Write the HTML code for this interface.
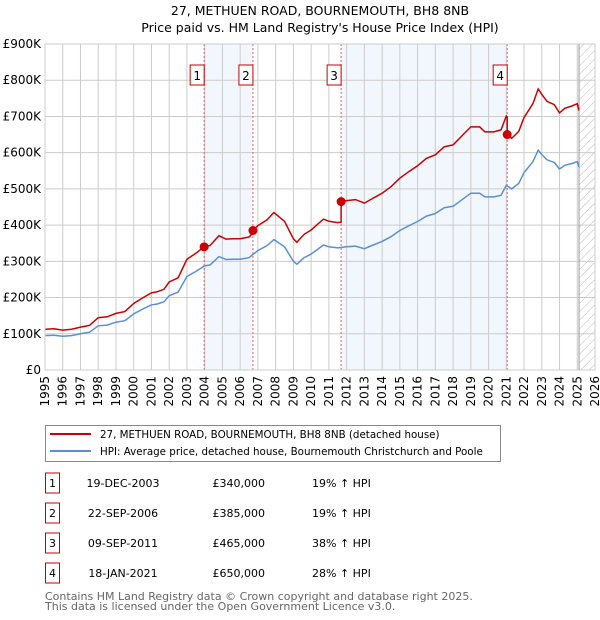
<!DOCTYPE html>
<html><head><meta charset="utf-8"><style>
body{margin:0;background:#fff;font-family:"Liberation Sans","DejaVu Sans",sans-serif;}
#wrap{position:relative;width:600px;height:620px;overflow:hidden;}
</style></head><body>
<div id="wrap">
<svg id="c" width="600" height="620" xmlns="http://www.w3.org/2000/svg" font-family="DejaVu Sans, Liberation Sans, sans-serif">
<text x="320" y="15" text-anchor="middle" font-size="12.5">27, METHUEN ROAD, BOURNEMOUTH, BH8 8NB</text>
<text x="320" y="32" text-anchor="middle" font-size="12.5">Price paid vs. HM Land Registry's House Price Index (HPI)</text>
</svg>
</div>
<script>
const hpiYears=[1995,1995.5,1996,1996.5,1997,1997.5,1998,1998.5,1999,1999.5,2000,2000.5,2001,2001.3,2001.7,2002,2002.5,2003,2003.5,2004,2004.3,2004.8,2005.2,2005.6,2006,2006.5,2007,2007.5,2007.9,2008.5,2009,2009.2,2009.6,2010,2010.7,2011,2011.5,2012,2012.5,2013,2013.5,2014,2014.5,2015,2015.5,2016,2016.5,2017,2017.5,2018,2018.5,2019,2019.5,2019.8,2020.3,2020.7,2021,2021.3,2021.7,2022,2022.5,2022.8,2023,2023.3,2023.7,2024,2024.3,2024.7,2025,2025.1];
const hpiValues=[95,96,93,95,100,104,122,124,132,136,155,168,180,182,188,205,215,258,272,288,290,313,305,306,306,310,330,343,360,340,300,292,310,320,345,340,337,340,342,335,345,355,368,385,398,410,425,432,448,452,470,488,488,478,478,482,510,500,515,545,575,607,595,580,573,555,565,570,575,560];
const saleYears=[2003.97,2006.72,2011.69,2021.05];
const salePrices=[340,385,465,650];
const saleLabels=["1","2","3","4"];
const saleDates=["19-DEC-2003","22-SEP-2006","09-SEP-2011","18-JAN-2021"];
const salePriceText=["£340,000","£385,000","£465,000","£650,000"];
const salePct=["19% ↑ HPI","19% ↑ HPI","38% ↑ HPI","28% ↑ HPI"];
const yTicks=[0,100,200,300,400,500,600,700,800,900];
const yTickLabels=["£0","£100K","£200K","£300K","£400K","£500K","£600K","£700K","£800K","£900K"];
const xTicks=[1995,1996,1997,1998,1999,2000,2001,2002,2003,2004,2005,2006,2007,2008,2009,2010,2011,2012,2013,2014,2015,2016,2017,2018,2019,2020,2021,2022,2023,2024,2025,2026];

const L=45,R=595,T=44,B=370,X0=1995,X1=2026,YMAX=900;
const xs=v=>L+(v-X0)/(X1-X0)*(R-L);
const ys=v=>B-v/YMAX*(B-T);
const svg=document.getElementById('c');
const NS="http://www.w3.org/2000/svg";
function mk(tag,attrs,parent){const e=document.createElementNS(NS,tag);for(const k in attrs)e.setAttribute(k,attrs[k]);(parent||svg).appendChild(e);return e;}
function hpiAt(t){for(let i=0;i<hpiYears.length-1;i++){if(t<=hpiYears[i+1]){const f=(t-hpiYears[i])/(hpiYears[i+1]-hpiYears[i]);return hpiValues[i]+f*(hpiValues[i+1]-hpiValues[i]);}}return hpiValues[hpiValues.length-1];}

const defs=mk('defs',{});
const pat=mk('pattern',{id:'hatch',width:6,height:6,patternUnits:'userSpaceOnUse',patternTransform:'rotate(45)'},defs);
mk('line',{x1:0,y1:0,x2:0,y2:6,stroke:'#bbb','stroke-width':1},pat);
const s1=mk('rect',{x:xs(saleYears[0]),y:T,width:xs(saleYears[1])-xs(saleYears[0]),height:B-T,fill:'#f2f6fd'});

const s2=mk('rect',{x:xs(saleYears[2]),y:T,width:xs(saleYears[3])-xs(saleYears[2]),height:B-T,fill:'#f2f6fd'});

const hx=mk('rect',{x:xs(2025.1),y:T,width:R-xs(2025.1),height:B-T,fill:'url(#hatch)'});


yTicks.forEach((v,i)=>{
 const g=mk('line',{x1:L,x2:R,y1:ys(v),y2:ys(v),stroke:'#ccc','stroke-width':1});
 
 const t=mk('text',{x:L-4,y:ys(v)+4,'text-anchor':'end','font-size':12});
 t.textContent=yTickLabels[i];
 
});
xTicks.forEach(v=>{
 const g=mk('line',{x1:xs(v),x2:xs(v),y1:T,y2:B,stroke:'#ccc','stroke-width':1});
 
 const t=mk('text',{x:0,y:0,'text-anchor':'end','font-size':12,transform:`translate(${xs(v)+4},${B+6}) rotate(-90)`});
 t.textContent=v;
 
});
mk('line',{x1:xs(2025.1),x2:xs(2025.1),y1:T,y2:B,stroke:'#999','stroke-width':1});

saleYears.forEach((v,i)=>{
 const l=mk('line',{x1:xs(v),x2:xs(v),y1:T,y2:B,stroke:'#e06060','stroke-width':1,'stroke-dasharray':'2,2'});
 
 const r=mk('rect',{x:xs(v)-14,y:65,width:14,height:20,fill:'#fff',stroke:'#c00','stroke-width':1});
 
 const t=mk('text',{x:xs(v)-7,y:80,'text-anchor':'middle','font-size':12});
 t.textContent=saleLabels[i];
 
});

let d='';hpiYears.forEach((v,i)=>{d+=(i?'L':'M')+xs(v).toFixed(1)+','+ys(hpiValues[i]).toFixed(1);});
const hp=mk('path',{d:d,fill:'none',stroke:'#5b8fd6','stroke-width':1.5});


function priceAt(t){let k=0;for(let i=0;i<saleYears.length;i++)if(t>=saleYears[i])k=i;return salePrices[k]*hpiAt(t)/hpiAt(saleYears[k]);}
const pts=[...hpiYears];saleYears.forEach(s=>{pts.push(s-0.001);pts.push(s);});pts.sort((a,b)=>a-b);
let d2='';pts.forEach((t,i)=>{d2+=(i?'L':'M')+xs(t).toFixed(1)+','+ys(priceAt(t)).toFixed(1);});
const pp=mk('path',{d:d2,fill:'none',stroke:'#cc0000','stroke-width':1.5});

saleYears.forEach((v,i)=>{
 const c=mk('circle',{cx:xs(v),cy:ys(salePrices[i]),r:4.5,fill:'#cc0000'});
 
});
mk('rect',{x:L,y:T,width:R-L,height:B-T,fill:'none',stroke:'#ccc'});

const lg=mk('g',{});

mk('rect',{x:45.5,y:425.5,width:455,height:36,fill:'#fff',stroke:'#888'},lg);
mk('line',{x1:50,x2:91,y1:434,y2:434,stroke:'#cc0000','stroke-width':2},lg);
mk('line',{x1:50,x2:91,y1:451,y2:451,stroke:'#5b8fd6','stroke-width':2},lg);
const lt1=mk('text',{x:100,y:438,'font-size':10.3},lg);lt1.textContent='27, METHUEN ROAD, BOURNEMOUTH, BH8 8NB (detached house)';

const lt2=mk('text',{x:100,y:455,'font-size':10.3},lg);lt2.textContent='HPI: Average price, detached house, Bournemouth Christchurch and Poole';


saleYears.forEach((v,i)=>{
 const cy=483+i*30;
 const r=mk('rect',{x:45.5,y:cy-10,width:14,height:20,fill:'#fff',stroke:'#c00'});
 
 const a=mk('text',{x:52.5,y:cy+4,'text-anchor':'middle','font-size':11});a.textContent=saleLabels[i];
 
 const b=mk('text',{x:123,y:cy+4,'text-anchor':'middle','font-size':11});b.textContent=saleDates[i];
 
 const c=mk('text',{x:265,y:cy+4,'text-anchor':'end','font-size':11});c.textContent=salePriceText[i];
 
 const e=mk('text',{x:312,y:cy+4,'font-size':11});e.textContent=salePct[i];
 
});
const f1=mk('text',{x:45,y:600,'font-size':11,fill:'#666'});f1.textContent='Contains HM Land Registry data © Crown copyright and database right 2025.';

const f2=mk('text',{x:45,y:610,'font-size':11,fill:'#666'});f2.textContent='This data is licensed under the Open Government Licence v3.0.';

</script>
</body></html>
